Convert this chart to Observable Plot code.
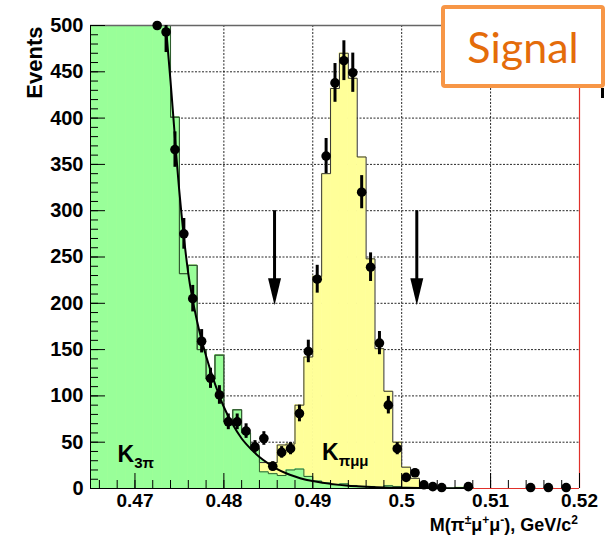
<!DOCTYPE html>
<html>
<head>
<meta charset="utf-8">
<script src="https://cdn.jsdelivr.net/npm/d3@7"></script>
<script src="https://cdn.jsdelivr.net/npm/@observablehq/plot@0.6"></script>
<style>
  body { margin: 0; background: #fff; }
  #wrap { position: relative; width: 611px; height: 536px; overflow: hidden; }
  #signal {
    position: absolute; left: 441px; top: 5px; width: 156px; height: 75px;
    border: 4px solid #f79646; border-radius: 4px; background: #fff;
    color: #e46c0a; font-family: Lato, "Open Sans", sans-serif; font-size: 43px;
    display: flex; align-items: center; justify-content: center;
  }
  #legendEdge { position: absolute; left: 601px; top: 88px; width: 3px; height: 10px; background: #000; }
</style>
</head>
<body>
<div id="wrap"><div id="signal">Signal</div><div id="legendEdge"></div></div>
<script>
// Histogram bins: lower edges in GeV/c^2, 1 MeV wide
const binWidth = 0.001;
const binLow = [0.465,0.466,0.467,0.468,0.469,0.470,0.471,0.472,0.473,0.474,
                0.475,0.476,0.477,0.478,0.479,0.480,0.481,0.482,0.483,0.484,
                0.485,0.486,0.487,0.488,0.489,0.490,0.491,0.492,0.493,0.494,
                0.495,0.496,0.497,0.498,0.499,0.500,0.501,0.502,0.503,0.504,
                0.505,0.506,0.507];
// K3pi background MC (stacked bottom)
const k3piCounts = [500,500,500,500,500,500,500,500,500,401,
                    232,241,150,118,144,72,85,60,42,18,
                    16,14,20,21,13,8,6,4,5,3,
                    2,2,1,3,2,1,0,0,0,0,
                    0,1,1];
// K -> pi mu mu signal MC (stacked on top)
const kpimumuCounts = [0,0,0,0,0,0,0,0,0,0,
                       0,0,0,0,0,0,0,0,2,10,
                       12,33,28,69,129,221,334,428,465,440,
                       356,246,150,102,48,22,11,1,0,0,
                       0,0,0];

// Data: bin centres and event counts
const dataMass = [0.4725,0.4735,0.4745,0.4755,0.4765,0.4775,0.4785,0.4795,0.4805,0.4815,
                  0.4825,0.4835,0.4845,0.4855,0.4865,0.4875,0.4885,0.4895,0.4905,0.4915,
                  0.4925,0.4935,0.4945,0.4955,0.4965,0.4975,0.4985,0.4995,0.5005,0.5015,
                  0.5025,0.5035,0.5045,0.5075,0.5145,0.5165,0.5185];
const dataCounts = [500,493,366,275,205,159,119,101,72,72,
                    62,45,54,24,39,43,81,148,226,359,
                    438,462,449,320,239,157,90,43,12,17,
                    4,2,1,2,1,1,1];

// K3pi fitted shape
const fitMass  = [0.4733,0.4740,0.4750,0.4760,0.4770,0.4780,0.4790,0.4800,0.4810,0.4820,
                  0.4830,0.4840,0.4850,0.4860,0.4870,0.4880,0.4890,0.4900,0.4920,0.4940,
                  0.4960,0.4980,0.5000,0.5020,0.5050,0.5080];
const fitValue = [520,440,320,232,180,143,113,88,69,54,
                  43,34,27,21,16.5,13,10,8,5,3,
                  2,1.2,0.8,0.5,0.3,0.2];

// Signal-region cuts and arrow extent (events)
const cutMass = [0.4857, 0.5017];
const arrowTail = 300, arrowTip = 198;

// Axes
const xDomain = [0.465, 0.52];
const yDomain = [0, 500];
const xMajor = [0.47, 0.48, 0.49, 0.50, 0.51, 0.52];
const xMajorLabels = ["0.47", "0.48", "0.49", "0.5", "0.51", "0.52"];
const xMinor = d3.range(0.466, 0.5205, 0.002);
const yMajor = [0, 50, 100, 150, 200, 250, 300, 350, 400, 450, 500];
const yMinor = d3.range(0, 501, 10);
const xGrid = [0.47, 0.48, 0.49, 0.50, 0.51];
const yGrid = [50, 100, 150, 200, 250, 300, 350, 400, 450];
const redTail = [0.508, 0.52];

const W = 611, H = 536;
const M = {top: 25, right: 32, bottom: 48, left: 90};
const frameW = W - M.left - M.right, frameH = H - M.top - M.bottom;

const bins = binLow.map((lo, i) => ({
  x1: lo, x2: lo + binWidth,
  k3pi: k3piCounts[i],
  total: k3piCounts[i] + kpimumuCounts[i]
}));
const lastEdge = bins[bins.length - 1].x2;
const totalOutline = bins.map(b => ({x: b.x1, y: b.total})).concat([{x: lastEdge, y: 0}]);
const k3piOutline = bins.map(b => ({x: b.x1, y: b.k3pi})).concat([{x: lastEdge, y: 0}]);
const points = dataMass.map((m, i) => ({m, n: dataCounts[i]}));
const fit = fitMass.map((m, i) => ({m, v: fitValue[i]}));

// narrow down-pointing arrow head, tip at the anchor point
const arrowHead = {draw(ctx) { ctx.moveTo(0, 0); ctx.lineTo(-6.5, -27); ctx.lineTo(6.5, -27); ctx.closePath(); }};

const green = "#99ff99", yellow = "#ffff99", edge = "#333";
const bold = {fontWeight: "bold"};

const plot = Plot.plot({
  width: W, height: H,
  marginTop: M.top, marginRight: M.right, marginBottom: M.bottom, marginLeft: M.left,
  x: {domain: xDomain},
  y: {domain: yDomain},
  style: {fontFamily: "'Liberation Sans', Arial, sans-serif", background: "white", overflow: "visible"},
  marks: [
    Plot.gridX(xGrid, {stroke: "#000", strokeOpacity: 0.85, strokeDasharray: "2,1.5"}),
    Plot.gridY(yGrid, {stroke: "#000", strokeOpacity: 0.85, strokeDasharray: "2,1.5"}),
    // fitted K3pi shape, filled
    Plot.areaY(fit, {x: "m", y: "v", curve: "monotone-x", fill: green, stroke: green, strokeWidth: 0.5, clip: true}),
    // stacked histograms
    Plot.rectY(bins, {x1: "x1", x2: "x2", y: "total", fill: yellow, stroke: yellow, strokeWidth: 0.6, clip: true}),
    Plot.rectY(bins, {x1: "x1", x2: "x2", y: "k3pi", fill: green, stroke: green, strokeWidth: 0.6, clip: true}),
    Plot.lineY(totalOutline, {x: "x", y: "y", curve: "step-after", stroke: edge, strokeWidth: 1, clip: true}),
    Plot.lineY(k3piOutline, {x: "x", y: "y", curve: "step-after", stroke: "#2f5f2f", strokeWidth: 1, clip: true}),
    Plot.line(fit, {x: "m", y: "v", curve: "monotone-x", stroke: "#000", strokeWidth: 2, clip: true}),
    // frame
    Plot.ruleY([yDomain[1]], {stroke: "#666", strokeWidth: 1.5}),
    Plot.ruleY([0], {stroke: "#000", strokeWidth: 1}),
    Plot.ruleY([0], {x1: redTail[0], x2: redTail[1], stroke: "#e0302a", strokeWidth: 1.2}),
    Plot.ruleX([xDomain[0]], {stroke: "#000", strokeWidth: 1}),
    Plot.ruleX([xDomain[1]], {stroke: "#e0302a", strokeWidth: 1.2}),
    // inward ticks
    Plot.ruleY(yMajor, {y: d => d, insetRight: frameW - 15, stroke: "#000"}),
    Plot.ruleY(yMinor, {y: d => d, insetRight: frameW - 8, stroke: "#000"}),
    Plot.ruleX(xMajor, {x: d => d, insetTop: frameH - 15, stroke: "#000"}),
    Plot.ruleX(xMinor, {x: d => d, insetTop: frameH - 8, stroke: "#000"}),
    // cut arrows
    Plot.ruleX(cutMass, {x: d => d, y1: arrowTail, y2: arrowTip + 20, stroke: "#000", strokeWidth: 3}),
    Plot.dot(cutMass, {x: d => d, y: arrowTip, symbol: arrowHead, fill: "#000", stroke: "none"}),
    // data with Poisson errors
    Plot.ruleX(points.filter(d => d.n < yDomain[1]), {x: "m", y1: d => d.n - Math.sqrt(d.n), y2: d => d.n + Math.sqrt(d.n), stroke: "#000", strokeWidth: 3, clip: true}),
    Plot.dot(points, {x: "m", y: "n", r: 4.8, fill: "#000", stroke: "none"}),
    // tick labels
    Plot.axisY(yMajor, {anchor: "left", tickSize: 0, tickPadding: 7, fontSize: 20, ...bold, label: null, tickFormat: d => String(d)}),
    Plot.axisX(xMajor, {anchor: "bottom", tickSize: 0, tickPadding: 5, fontSize: 19, ...bold, label: null, tickFormat: (d, i) => xMajorLabels[i]}),
    Plot.text(["Events"], {frameAnchor: "top-left", text: d => d, rotate: -90, textAnchor: "end", dx: -64, dy: 1, fontSize: 22, ...bold})
  ]
});

document.getElementById("wrap").prepend(plot);

// Labels with sub- and superscripts
const svg = d3.select(plot);
const sx = plot.scale("x"), sy = plot.scale("y");

function richText(x, y, parts, size, small, shift, anchor) {
  const t = svg.append("text")
    .attr("x", x).attr("y", y)
    .attr("text-anchor", anchor)
    .attr("font-family", "'Liberation Sans', Arial, sans-serif")
    .attr("font-weight", "bold")
    .attr("font-size", size)
    .attr("fill", "#000");
  let offset = 0;
  for (const [s, level] of parts) {
    const target = level * shift;
    const ts = t.append("tspan").text(s).attr("dy", target - offset);
    if (level !== 0) ts.attr("font-size", small);
    offset = target;
  }
  return t;
}

// x-axis title along the bottom edge
richText(sx.apply(xDomain[1]) - 1, H - 5,
  [["M(\u03c0", 0], ["\u00b1", -1], ["\u03bc", 0], ["+", -1], ["\u03bc", 0], ["-", -1], ["), GeV/c", 0], ["2", -1]],
  18, 12, 7, "end");

// component labels
const labelK3pi = {m: 0.4681, n: 28};
const labelKpimumu = {m: 0.4911, n: 30};
richText(sx.apply(labelK3pi.m), sy.apply(labelK3pi.n), [["K", 0], ["3\u03c0", 1]], 23, 15, 6, "start");
richText(sx.apply(labelKpimumu.m), sy.apply(labelKpimumu.n), [["K", 0], ["\u03c0\u03bc\u03bc", 1]], 23, 15, 6, "start");
</script>
</body>
</html>
